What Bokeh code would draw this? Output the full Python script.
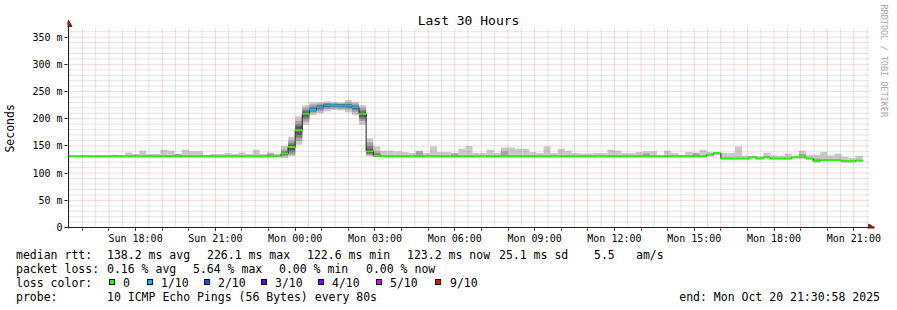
import math
import pandas as pd
from bokeh.plotting import figure
from bokeh.layouts import column
from bokeh.models import Range1d, FixedTicker, DatetimeTickFormatter, Div
from bokeh.core.properties import value
from bokeh.embed import file_html
from bokeh.resources import INLINE

# ---------------- data ----------------
TITLE = "Last 30 Hours"
START = "2025-10-19 15:30:58"
END = "2025-10-20 21:30:58"
FIRST_BIN = "2025-10-19 15:28:00"
BIN_MINUTES = 16

# median rtt per 16-minute bin (ms)
median = ([131] * 30 +
          [136, 148, 179, 209, 216, 221, 225, 225, 224, 224, 221, 209, 140, 132] +
          [131] * 46 +
          [134, 137, 127, 127, 127, 127, 129, 127, 129, 127, 127, 127, 129, 129,
           127, 122, 124, 124, 124, 122, 122, 123])

# outer smoke (fastest .. slowest ping) per bin (ms)
smoke_max = ([132, 132, 132, 132, 132, 132, 134, 132, 138, 135, 141, 135, 135, 143, 141,
              135, 143, 140, 140, 134, 135, 135, 137, 135, 138, 135, 143, 135, 138, 135] +
             [150, 167, 204, 225, 230, 231, 232, 231, 230, 234, 231, 225, 164, 149] +
             [141, 141, 140, 139, 137, 141, 137, 149, 139, 139, 137, 145, 150, 137, 137,
              143, 137, 147, 147, 145, 145, 139, 137, 149, 137, 145, 141, 137, 136, 136,
              137, 137, 143, 141, 137, 137, 139, 140, 140, 133, 141, 137, 134, 139, 138,
              143] +
             [139, 139, 137, 137, 149, 132, 131, 131, 137, 133, 132, 136, 130, 141, 134,
              134, 139, 133, 136, 130, 128, 132])
smoke_min = ([129] * 30 +
             [128, 131, 152, 189, 207, 210, 214, 216, 215, 212, 207, 189, 131, 130] +
             [129] * 46 +
             [131, 133, 125, 125, 125, 125, 127, 125, 127, 125, 125, 125, 127, 127,
              125, 120, 122, 122, 122, 120, 120, 121])

# average lost pings (of 10) per bin
loss = ([0] * 34 + [0.2, 0.3, 0.564, 0.2, 0.2, 0.15, 0.18] + [0] * 71)

# inner smoke bands for the bins of the spike
spike_first_bin = 30
band2_lo = [131, 134, 159, 195, 211, 214, 218, 219, 218, 217, 212, 196, 133, 131]
band2_hi = [144, 160, 196, 220, 226, 228, 229, 229, 228, 230, 228, 220, 157, 140]
band3_lo = [133, 138, 165, 200, 213, 217, 221, 222, 221, 220, 216, 200, 135, 131]
band3_hi = [140, 155, 190, 216, 222, 225, 228, 227, 227, 227, 225, 216, 150, 136]
band4_lo = [134, 142, 170, 204, 214, 219, 222, 223, 222, 221, 218, 203, 137, 131]
band4_hi = [138, 152, 186, 213, 219, 224, 227, 226, 226, 226, 222, 213, 145, 134]

# second smoke band where it shows in the flat part
patch_bins = [15, 28, 49, 54, 61, 81, 88, 103, 105]
patch_top = [135, 136, 140, 136, 140, 136, 136, 135, 127]

x_label_times = ["2025-10-19 18:00", "2025-10-19 21:00", "2025-10-20 00:00",
                 "2025-10-20 03:00", "2025-10-20 06:00", "2025-10-20 09:00",
                 "2025-10-20 12:00", "2025-10-20 15:00", "2025-10-20 18:00",
                 "2025-10-20 21:00"]
FIRST_GRID_HOUR = "2025-10-19 16:00"
y_ticks = [0, 50, 100, 150, 200, 250, 300, 350]
y_tick_labels = ["0", "50 m", "100 m", "150 m", "200 m", "250 m", "300 m", "350 m"]
Y_MAX = 368

loss_levels = [0, 1, 2, 3, 4, 5, 9]
loss_names = ["0", "1/10", "2/10", "3/10", "4/10", "5/10", "9/10"]
loss_colors = ["#26ff00", "#00b8ff", "#0059ff", "#5e00ff", "#7e00ff", "#dd00ff", "#ff0000"]
smoke_colors = ["#cacaca", "#a4a4a4", "#7e7e7e", "#585858"]

rtt_stats = ["138.2 ms avg", "226.1 ms max", "122.6 ms min", "123.2 ms now",
             "25.1 ms sd", "5.5", "am/s"]
loss_stats = ["0.16 % avg", "5.64 % max", "0.00 % min", "0.00 % now"]
probe_text = "10 ICMP Echo Pings (56 Bytes) every 80s"
end_text = "end: Mon Oct 20 21:30:58 2025"
credit = "RRDTOOL / TOBI OETIKER"
y_title = "Seconds"

# ---------------- layout constants ----------------
W, H = 897, 310
GL, GR, GT, GB = 67, 867, 27, 228     # rrdtool graph area (pixels)
MAIN_H = 246                           # height of the chart figure
FRAME_L, FRAME_B = 65, 229             # Bokeh frame edges
FONT = "DejaVu Sans Mono"


def ms(t):
    return pd.Timestamp(t).value / 1e6


t0, t1 = ms(START), ms(END)
px_x = (t1 - t0) / (GR - GL)         # time per pixel
px_y = Y_MAX / (GB - GT)             # rtt per pixel
bin_ms = BIN_MINUTES * 60 * 1000
nb = len(median)
edges = [ms(FIRST_BIN) + k * bin_ms for k in range(nb + 1)]


def X(px):   # pixel column -> time
    return t0 + (px - GL) * px_x


def Y(py):   # pixel row -> rtt
    return (GB - py) * px_y


p = figure(width=W, height=MAIN_H, x_axis_type="datetime", output_backend="svg",
           toolbar_location=None, title=None,
           min_border_left=FRAME_L, min_border_right=0, min_border_top=0,
           min_border_bottom=MAIN_H - FRAME_B,
           x_range=Range1d(X(FRAME_L), X(W)), y_range=Range1d(Y(FRAME_B), Y(0)))
p.background_fill_color = "white"
p.border_fill_color = "white"
p.outline_line_color = None
p.xgrid.visible = False
p.ygrid.visible = False

# ---------------- smoke ----------------
p.quad(left=edges[:-1], right=edges[1:], bottom=smoke_min, top=smoke_max,
       fill_color=smoke_colors[0], line_color=None)
p.quad(left=[edges[b] for b in patch_bins], right=[edges[b + 1] for b in patch_bins],
       bottom=[median[b] - 1 for b in patch_bins], top=patch_top,
       fill_color=smoke_colors[1], line_color=None)
sl = edges[spike_first_bin:spike_first_bin + len(band2_lo)]
sr = edges[spike_first_bin + 1:spike_first_bin + 1 + len(band2_lo)]
for lo, hi, col in [(band2_lo, band2_hi, smoke_colors[1]),
                    (band3_lo, band3_hi, smoke_colors[2]),
                    (band4_lo, band4_hi, smoke_colors[3])]:
    p.quad(left=sl, right=sr, bottom=lo, top=hi, fill_color=col, line_color=None)

# ---------------- median line + loss colour ----------------
p.step(x=edges, y=median + [median[-1]], mode="after", line_color="#202020", line_width=1)


def loss_color(v):
    for lv, c in zip(loss_levels, loss_colors):
        if v <= lv:
            return c
    return loss_colors[-1]


sw = px_y
p.quad(left=edges[:-1], right=edges[1:],
       bottom=[m - sw for m in median], top=[m + sw for m in median],
       fill_color=[loss_color(v) for v in loss], line_color=None)

# ---------------- grid (on top of data, like rrdtool) ----------------
hour = 3600 * 1000
h0 = ms(FIRST_GRID_HOUR)
hours = [h0 + i * hour for i in range(30)]
halfs = [h0 - hour / 2 + i * hour for i in range(31)]
minor_y = [v for v in range(10, 370, 10) if v % 50]
GA = 0.45
top = Y(GT)
p.multi_line(xs=[[h, h] for h in halfs], ys=[[0, top]] * len(halfs),
             line_color="#8f8f8f", line_alpha=GA, line_dash="1 1")
p.multi_line(xs=[[X(GL - 2), X(GR + 2)]] * len(minor_y), ys=[[v, v] for v in minor_y],
             line_color="#8f8f8f", line_alpha=GA, line_dash="1 1")
p.multi_line(xs=[[h, h] for h in hours], ys=[[0, top]] * len(hours),
             line_color="#de4f4f", line_alpha=GA, line_dash="1 1")
p.multi_line(xs=[[X(GL - 2), X(GR + 2)]] * (len(y_ticks) - 1), ys=[[v, v] for v in y_ticks[1:]],
             line_color="#de4f4f", line_alpha=GA, line_dash="1 1")

# ---------------- axis lines with arrow heads ----------------
AX = "#1f1f1f"
HEAD = "#801f1f"
p.segment(x0=[X(GL - 5), X(GL - 1)], y0=[0, Y(GB + 2)], x1=[X(GR + 2), X(GL - 1)],
          y1=[0, Y(GT - 3)], line_color=AX, line_width=1)
p.scatter(x=[X(GR + 3)], y=[0], marker="triangle", size=7, angle=-math.pi / 2,
          fill_color=HEAD, line_color=HEAD)
p.scatter(x=[X(GL - 1)], y=[Y(GT - 3)], marker="triangle", size=7,
          fill_color=HEAD, line_color=HEAD)

# ---------------- axes ----------------
xa = p.xaxis[0]
xa.ticker = FixedTicker(ticks=[ms(t) for t in x_label_times], minor_ticks=hours)
fmt = "%a %H:%M"
xa.formatter = DatetimeTickFormatter(hours=fmt, hourmin=fmt, days=fmt, minutes=fmt,
                                     minsec=fmt, seconds=fmt, months=fmt, years=fmt)
xa.axis_line_color = None
xa.major_tick_out = 2
xa.major_tick_in = 0
xa.minor_tick_out = 2
xa.minor_tick_in = 0
xa.major_tick_line_color = AX
xa.minor_tick_line_color = AX
xa.major_label_standoff = 2
xa.major_label_text_font = FONT
xa.major_label_text_font_size = "10px"
xa.major_label_text_color = "black"

ya = p.yaxis[0]
ya.ticker = FixedTicker(ticks=y_ticks, minor_ticks=[])
ya.major_label_overrides = {v: s for v, s in zip(y_ticks, y_tick_labels)}
ya.axis_line_color = None
ya.major_tick_out = 3
ya.major_tick_in = 0
ya.major_tick_line_color = AX
ya.major_label_standoff = 2
ya.major_label_text_font = FONT
ya.major_label_text_font_size = "10px"
ya.major_label_text_color = "black"
# trailing no-break spaces move the centred, rotated title down to rrdtool's place
ya.axis_label = y_title + "\u00a0" * 4
ya.axis_label_text_font = FONT
ya.axis_label_text_font_size = "11.5px"
ya.axis_label_text_font_style = "normal"
ya.axis_label_text_color = "black"
ya.axis_label_standoff = 12

# title and credit inside the (enlarged) frame
p.text(x=[(t0 + t1) / 2], y=[Y(20)], text=[TITLE], text_font=value(FONT),
       text_font_size=value("13px"), text_align="center", text_baseline="middle",
       text_color="black")
p.text(x=[X(883)], y=[Y(4)], text=[credit], text_font=value(FONT),
       text_font_size=value("8.5px"), text_align="left", text_baseline="middle",
       text_color="#a8a8a8", angle=-math.pi / 2)

# ---------------- legend block (HTML, pixel positions) ----------------
LH = H - MAIN_H
L1, L2, L3, L4 = [v - MAIN_H for v in (255, 268.5, 282.5, 296.5)]
parts = []


def put(s, x, yc, right=False):
    pos = f"right:{W - x}px" if right else f"left:{x}px"
    parts.append(f'<span style="position:absolute;{pos};top:{yc - 7}px;'
                 f'line-height:14px;white-space:pre">{s}</span>')


put("median rtt:", 16, L1)
for s, x in zip(rtt_stats, [107, 207, 307, 407, 499, 594, 636]):
    put(s, x, L1)
put("packet loss:", 16, L2)
for s, x in zip(loss_stats, [107, 193, 279, 366]):
    put(s, x, L2)
put("loss color:", 16, L3)
for s, x in zip(loss_names, [123, 161, 218, 275, 332, 390, 450]):
    put(s, x, L3)
for c, x in zip(loss_colors, [109, 147, 204, 261, 318, 376, 435]):
    parts.append(f'<span style="position:absolute;left:{x}px;top:{L3 - 4}px;width:6px;'
                 f'height:6px;background:{c};border:1px solid #000"></span>')
put("probe:", 16, L4)
put(probe_text, 107, L4)
put(end_text, 880, L4, right=True)

html = (f'<div style="position:relative;width:{W}px;height:{LH}px;margin:0;padding:0;'
        f"font-family:'{FONT}';font-size:11.5px;color:#000;background:#fff\">"
        + "".join(parts) + "</div>")
legend = Div(text=html, width=W, height=LH, margin=(0, 0, 0, 0))

layout = column(p, legend, spacing=0)
open("out.html", "w").write(file_html(layout, INLINE))
